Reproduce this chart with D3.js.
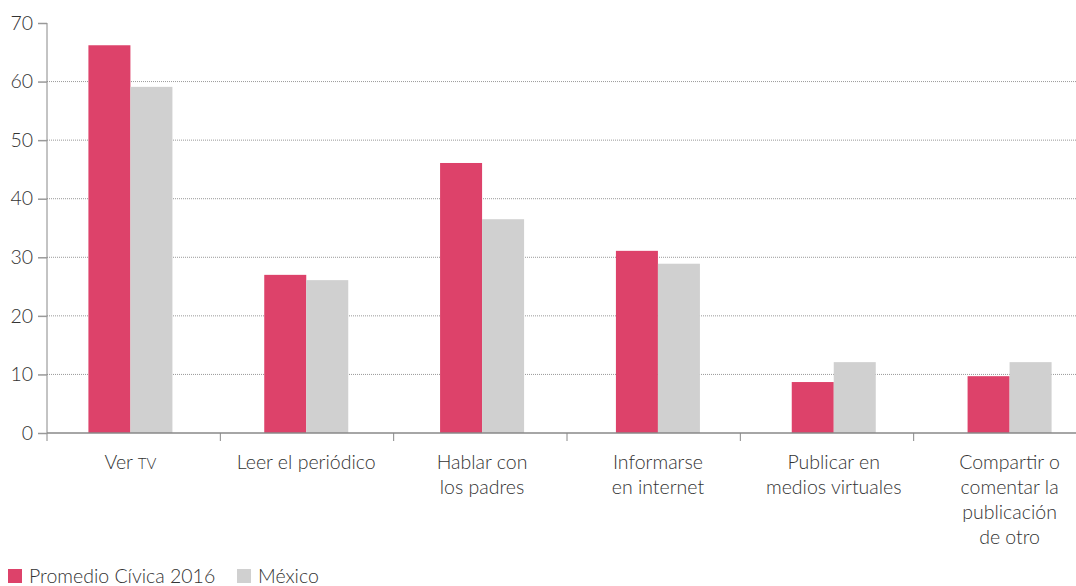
<!DOCTYPE html>
<html><head><meta charset="utf-8">
<script src="https://cdn.jsdelivr.net/npm/d3@7"></script>
<style>body{margin:0;background:#fff}svg{display:block;font-family:Lato,"Open Sans",sans-serif;font-weight:300}</style>
</head><body><svg id="c" width="1076" height="586"></svg>
<script>
const categories = ["Ver TV","Leer el periódico","Hablar con los padres","Informarse en internet","Publicar en medios virtuales","Compartir o comentar la publicación de otro"];
const labelLines = [["Ver TV"],["Leer el periódico"],["Hablar con","los padres"],["Informarse","en internet"],["Publicar en","medios virtuales"],["Compartir o","comentar la","publicación","de otro"]];
const seriesNames = ["Promedio Cívica 2016","México"];
const promedio = [66.2,27.0,46.1,31.1,8.7,9.7];
const mexico = [59.1,26.1,36.5,28.9,12.1,12.1];
const yTicks = [0,10,20,30,40,50,60,70];
const colors = ["#DD426A","#D0D0D0"];

const svg = d3.select("#c");
const x0 = 47, y0 = 433, yTop = 23;
const y = d3.scaleLinear().domain([0,70]).range([y0,yTop]);
const x = d3.scaleBand().domain(categories).range([44,1099]).paddingInner(0).paddingOuter(0);
const xTick = d3.scaleBand().domain(categories).range([47,1087]);
const xs = d3.scaleBand().domain(seriesNames).range([0,84]);
const groupOffset = (x.bandwidth()-84)/2 - 1.5;

// gridlines
svg.append("g").selectAll("line").data(yTicks.filter(t=>t>0&&t<70)).join("line")
  .attr("x1",x0).attr("x2",1076).attr("y1",d=>y(d)).attr("y2",d=>y(d))
  .attr("stroke","#999").attr("stroke-width",1).attr("stroke-dasharray","1,1");

// bars
const data = [promedio, mexico];
categories.forEach((c,i)=>{
  seriesNames.forEach((s,j)=>{
    svg.append("rect")
      .attr("x", x(c)+groupOffset+xs(s))
      .attr("width", xs.bandwidth())
      .attr("y", y(data[j][i]))
      .attr("height", y0 - y(data[j][i]))
      .attr("fill", colors[j]);
  });
});

// y axis
const ya = svg.append("g").attr("transform",`translate(${x0},0)`)
  .call(d3.axisLeft(y).tickValues(yTicks).tickSize(9).tickPadding(5));
ya.select(".domain").attr("stroke","#888").attr("d",`M0,${yTop}V${y0+8}`);
ya.selectAll(".tick line").attr("stroke","#999").attr("stroke-width",1.5);
ya.selectAll(".tick text").attr("fill","#333").attr("font-size",19.5).attr("font-family","Lato,sans-serif").attr("font-weight",300);

// x axis
svg.append("line").attr("x1",x0).attr("x2",1076).attr("y1",y0).attr("y2",y0).attr("stroke","#888").attr("stroke-width",1.5);
const bounds = categories.slice(1).map(c=>xTick(c));
svg.append("g").selectAll("line").data(bounds).join("line")
  .attr("x1",d=>d).attr("x2",d=>d).attr("y1",y0).attr("y2",y0+8).attr("stroke","#888").attr("stroke-width",1);

// category labels
categories.forEach((c,i)=>{
  const cx = x(c)+groupOffset+42;
  const t = svg.append("text").attr("text-anchor","middle").attr("fill","#333").attr("font-size",19.5).attr("x", cx);
  labelLines[i].forEach((ln,k)=>{
    const ts = t.append("tspan").attr("x", cx).attr("y", 469 + k*25);
    if (ln === "Ver TV") { ts.text("Ver "); ts.append("tspan").attr("font-size",15).text("TV"); }
    else ts.text(ln);
  });
});

// legend
const leg = [{x:8,tx:29},{x:237,tx:258}];
seriesNames.forEach((s,j)=>{
  svg.append("rect").attr("x",leg[j].x).attr("y",569).attr("width",14).attr("height",14).attr("fill",colors[j]);
  svg.append("text").attr("x",leg[j].tx).attr("y",583).attr("font-size",19.5).attr("fill","#333").text(s);
});
</script></body></html>
